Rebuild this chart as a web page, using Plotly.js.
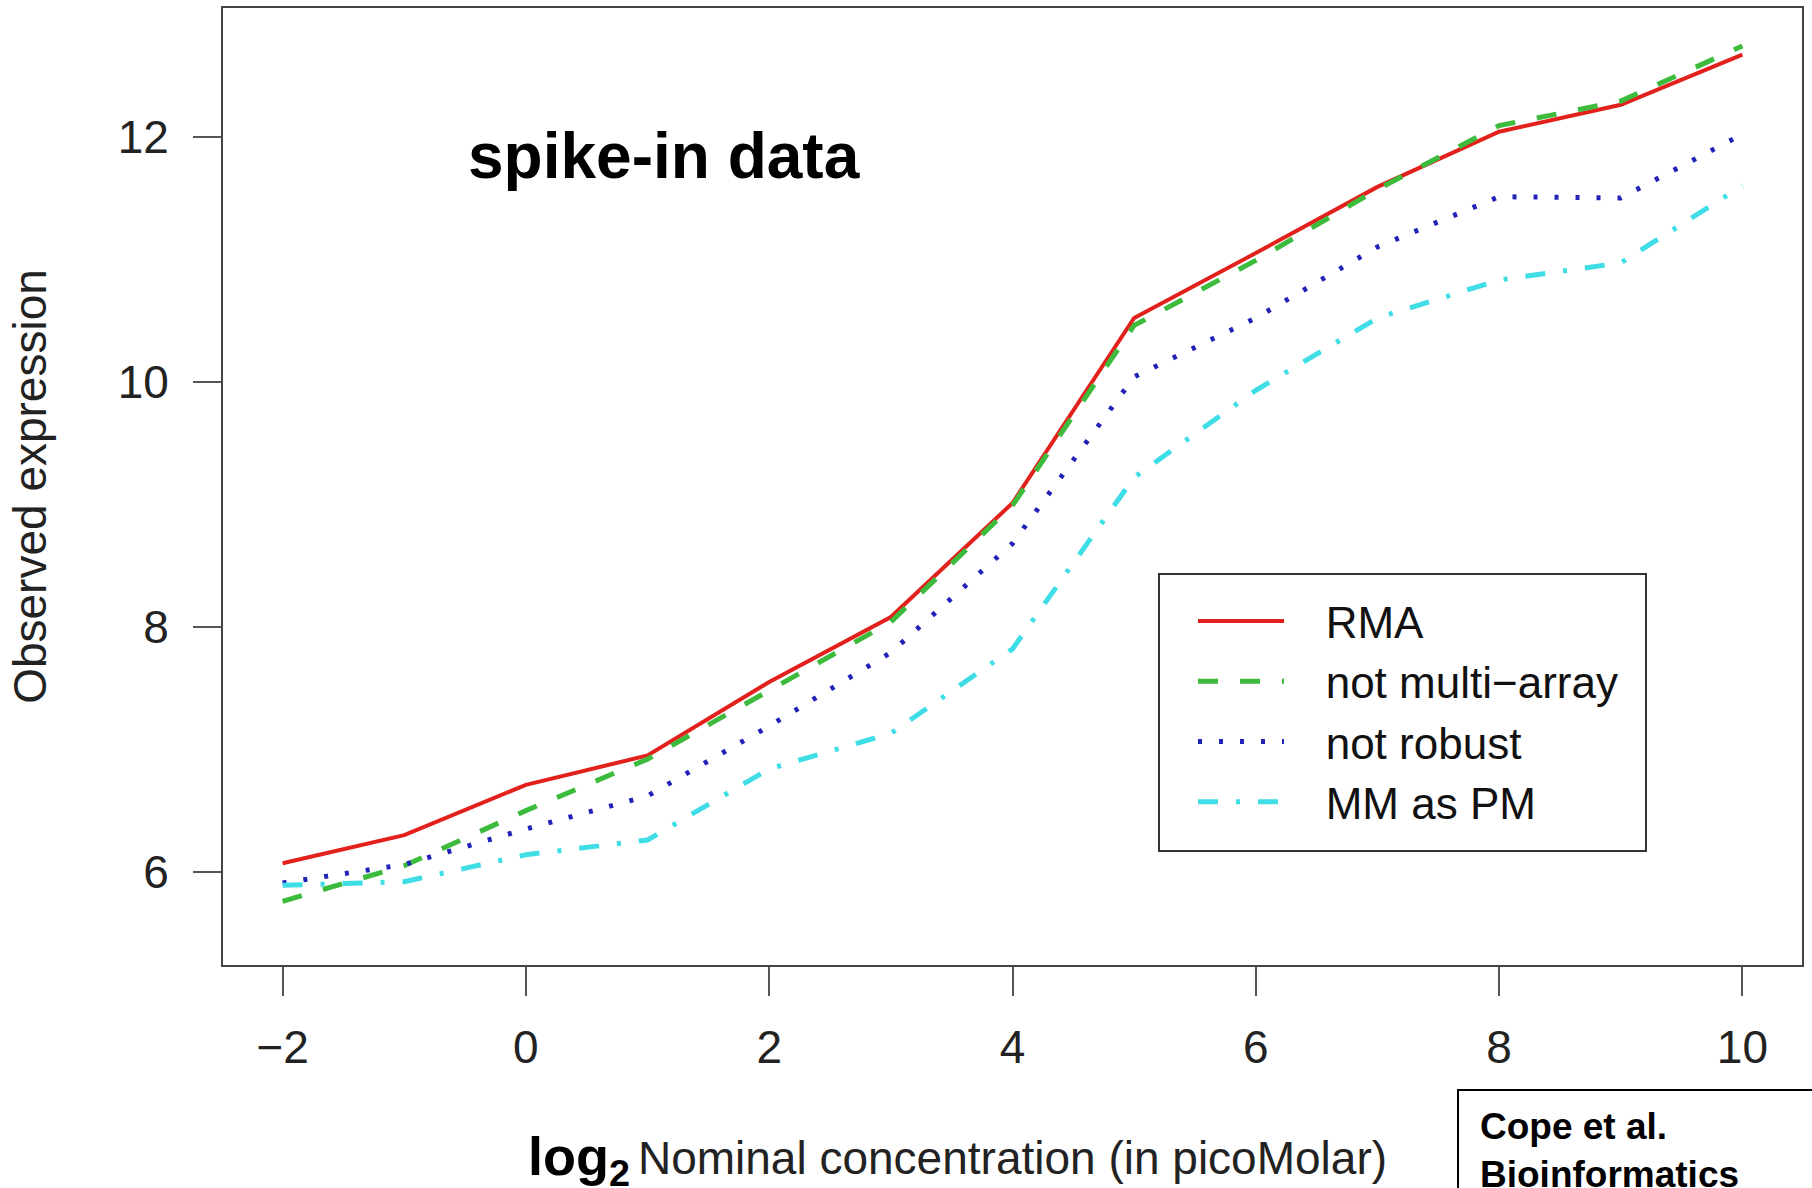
<!DOCTYPE html>
<html>
<head>
<meta charset="utf-8">
<script src="https://cdn.plot.ly/plotly-3.0.1.min.js"></script>
<style>
  html, body { margin: 0; padding: 0; background: #ffffff; }
  #chart { width: 1812px; height: 1188px; }
</style>
</head>
<body>
<div id="chart"></div>
<script>
// ---- data ----
const concentration = [-2, -1, 0, 1, 2, 3, 4, 5, 6, 7, 8, 9, 10];
const rma           = [6.07, 6.30, 6.71, 6.95, 7.55, 8.08, 9.01, 10.52, 11.05, 11.59, 12.04, 12.26, 12.67];
const notMultiArray = [5.76, 6.05, 6.50, 6.92, 7.48, 8.04, 8.99, 10.46, 10.99, 11.57, 12.09, 12.29, 12.74];
const notRobust     = [5.91, 6.06, 6.35, 6.62, 7.19, 7.79, 8.68, 10.04, 10.52, 11.10, 11.51, 11.50, 12.02];
const mmAsPm        = [5.89, 5.92, 6.14, 6.26, 6.84, 7.13, 7.82, 9.22, 9.93, 10.52, 10.83, 10.97, 11.60];
const seriesNames   = ['RMA', 'not multi\u2212array', 'not robust', 'MM as PM'];
const xTicks = [-2, 0, 2, 4, 6, 8, 10];
const yTicks = [6, 8, 10, 12];

const FONT = 'Liberation Sans, Arial, Helvetica, sans-serif';
const pad = '\u00a0\u00a0\u00a0';

const traces = [
  {x: concentration, y: rma, name: pad + seriesNames[0], mode: 'lines',
   line: {color: '#e3211c', width: 4}},
  {x: concentration, y: notMultiArray, name: pad + seriesNames[1], mode: 'lines',
   line: {color: '#3dbb3d', width: 5, dash: '20px,22px'}},
  {x: concentration, y: notRobust, name: pad + seriesNames[2], mode: 'lines',
   line: {color: '#2222b8', width: 5, dash: '4px,17px'}},
  {x: concentration, y: mmAsPm, name: pad + seriesNames[3], mode: 'lines',
   line: {color: '#3fdde6', width: 5, dash: '20px,18px,4px,18px'}}
];

// plot area in pixels: left 223, right 1802, top 8, bottom 965
const L = 223, R = 1802, T = 8, B = 965;
const px = v => (v - L) / (R - L);
const py = v => (B - v) / (B - T);

const layout = {
  width: 1812, height: 1188,
  paper_bgcolor: '#ffffff', plot_bgcolor: '#ffffff',
  margin: {l: L, r: 1812 - R, t: T, b: 1188 - B, pad: 0},
  font: {family: FONT, size: 46, color: '#111'},
  showlegend: true,
  legend: {
    x: px(1193), y: py(586), xanchor: 'left', yanchor: 'top',
    bgcolor: 'rgba(0,0,0,0)', borderwidth: 0,
    itemwidth: 86, font: {family: FONT, size: 44, color: '#111'},
    tracegroupgap: 0
  },
  xaxis: {
    range: [-2.49, 10.49], tickmode: 'array', tickvals: xTicks,
    ticks: 'outside', ticklen: 29, tickwidth: 2, tickcolor: '#555',
    showline: true, linecolor: '#444', linewidth: 2, mirror: true,
    showgrid: false, zeroline: false,
    tickfont: {family: FONT, size: 46, color: '#222'},
    ticklabelstandoff: 12,
    title: {text: 'Nominal concentration (in picoMolar)', font: {family: FONT, size: 46, color: '#222'}, standoff: 70},
    automargin: false
  },
  yaxis: {
    range: [5.24, 13.05], tickmode: 'array', tickvals: yTicks,
    ticks: 'outside', ticklen: 28, tickwidth: 2, tickcolor: '#555',
    showline: true, linecolor: '#444', linewidth: 2, mirror: true,
    showgrid: false, zeroline: false,
    tickfont: {family: FONT, size: 46, color: '#222'},
    ticklabelstandoff: 15,
    title: {text: 'Observed expression', font: {family: FONT, size: 46, color: '#222'}, standoff: 57},
    automargin: false
  },
  shapes: [
    // legend frame
    {type: 'rect', xref: 'paper', yref: 'paper',
     x0: px(1159), x1: px(1646), y0: py(851), y1: py(574),
     line: {color: '#333', width: 2}, fillcolor: 'rgba(0,0,0,0)', layer: 'above'},
    // citation frame
    {type: 'rect', xref: 'paper', yref: 'paper',
     x0: px(1458), x1: px(1830), y0: py(1200), y1: py(1090),
     line: {color: '#000', width: 2}, fillcolor: 'rgba(0,0,0,0)', layer: 'above'}
  ],
  annotations: [
    {text: '<b>spike-in data</b>', xref: 'paper', yref: 'paper',
     x: px(466), y: py(156), xanchor: 'left', yanchor: 'middle', showarrow: false,
     font: {family: FONT, size: 64, color: '#000'}},
    {text: '<b>log<sub>2</sub></b>', xref: 'paper', yref: 'paper',
     x: px(632), y: py(1160), xanchor: 'right', yanchor: 'middle', showarrow: false,
     font: {family: FONT, size: 54, color: '#000'}},
    {text: '<b>Cope et al.<br>Bioinformatics</b>', xref: 'paper', yref: 'paper',
     x: px(1478), y: py(1150), xanchor: 'left', yanchor: 'middle', align: 'left', showarrow: false,
     font: {family: FONT, size: 37, color: '#000'}}
  ]
};

Plotly.newPlot('chart', traces, layout, {displayModeBar: false, staticPlot: true});
</script>
</body>
</html>
